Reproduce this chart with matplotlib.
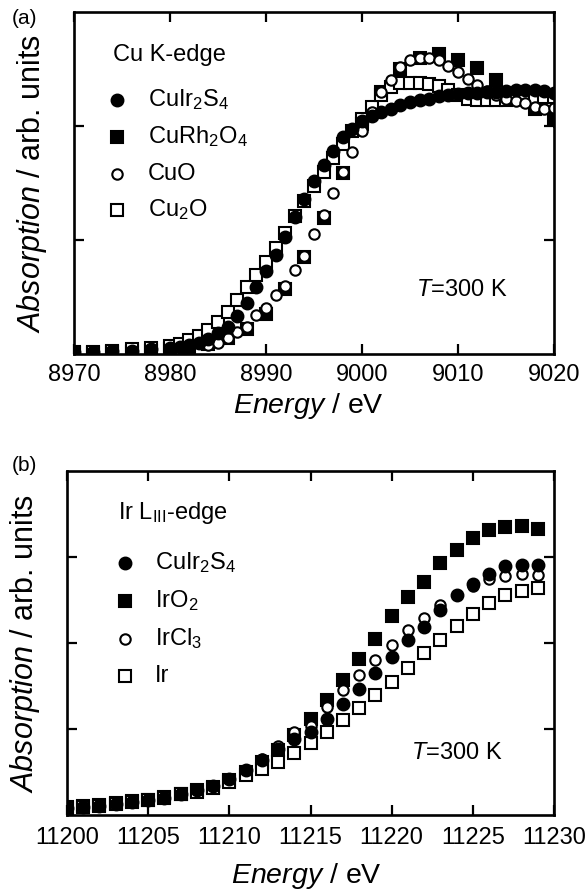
import matplotlib
matplotlib.use("Agg")
import matplotlib.pyplot as plt

plt.rcParams['font.family'] = ['Liberation Sans', 'DejaVu Sans']
plt.rcParams['mathtext.fontset'] = 'custom'
plt.rcParams['mathtext.rm'] = 'Liberation Sans'
plt.rcParams['mathtext.it'] = 'Liberation Sans:italic'
plt.rcParams['mathtext.bf'] = 'Liberation Sans:bold'

# ---------------- Panel (a): Cu K-edge ----------------
cuir2s4_a_E = [8970, 8972, 8974, 8976, 8978, 8980, 8981, 8982, 8983, 8984, 8985, 8986, 8987, 8988,
               8989, 8990, 8991, 8992, 8993, 8994, 8995, 8996, 8997, 8998, 8999, 9000, 9001, 9002,
               9003, 9004, 9005, 9006, 9007, 9008, 9009, 9010, 9011, 9012, 9013, 9014, 9015, 9016,
               9017, 9018, 9019, 9020]
cuir2s4_a_A = [0.02, 0.02, 0.03, 0.03, 0.04, 0.05, 0.06, 0.08, 0.10, 0.13, 0.18, 0.24, 0.33, 0.45,
               0.59, 0.73, 0.87, 1.03, 1.20, 1.36, 1.52, 1.66, 1.78, 1.90, 1.97, 2.04, 2.09, 2.12,
               2.15, 2.18, 2.21, 2.23, 2.24, 2.26, 2.27, 2.28, 2.29, 2.29, 2.30, 2.30, 2.31, 2.32,
               2.32, 2.32, 2.31, 2.29]

curh2o4_E = [8970, 8972, 8974, 8976, 8978, 8980, 8982, 8984, 8986, 8988, 8990, 8992, 8994, 8996,
             8998, 9000, 9002, 9004, 9006, 9008, 9010, 9012, 9014, 9016, 9018, 9020]
curh2o4_A = [0.01, 0.01, 0.02, 0.02, 0.03, 0.04, 0.06, 0.09, 0.14, 0.22, 0.35, 0.57, 0.85, 1.19,
             1.59, 2.02, 2.30, 2.50, 2.60, 2.63, 2.58, 2.51, 2.40, 2.28, 2.15, 2.07]
curh2o4_err_last = 0.09

cuo_E = [8970, 8972, 8974, 8976, 8978, 8980, 8982, 8984, 8985, 8986, 8987, 8988, 8989, 8990,
         8991, 8992, 8993, 8994, 8995, 8996, 8997, 8998, 8999, 9000, 9001, 9002, 9003, 9004,
         9005, 9006, 9007, 9008, 9009, 9010, 9011, 9012, 9013, 9014, 9015, 9016, 9017, 9018,
         9019, 9020]
cuo_A = [0.02, 0.02, 0.03, 0.03, 0.04, 0.04, 0.06, 0.08, 0.10, 0.14, 0.19, 0.24, 0.34, 0.40,
         0.52, 0.60, 0.74, 0.86, 1.05, 1.22, 1.41, 1.60, 1.77, 1.96, 2.12, 2.30, 2.40, 2.52,
         2.58, 2.60, 2.60, 2.58, 2.53, 2.47, 2.41, 2.36, 2.31, 2.27, 2.24, 2.22, 2.20, 2.17,
         2.15, 2.16]

cu2o_E = [8970, 8972, 8974, 8976, 8978, 8980, 8981, 8982, 8983, 8984, 8985, 8986, 8987, 8988,
          8989, 8990, 8991, 8992, 8993, 8994, 8995, 8996, 8997, 8998, 8999, 9000, 9001, 9002,
          9003, 9004, 9005, 9006, 9007, 9008, 9009, 9010, 9011, 9012, 9013, 9014, 9015, 9016,
          9017, 9018, 9019, 9020]
cu2o_A = [0.02, 0.02, 0.03, 0.04, 0.05, 0.07, 0.09, 0.12, 0.16, 0.21, 0.28, 0.37, 0.47, 0.59,
          0.69, 0.81, 0.93, 1.06, 1.21, 1.34, 1.47, 1.60, 1.72, 1.84, 1.96, 2.06, 2.17, 2.27,
          2.34, 2.38, 2.38, 2.38, 2.37, 2.35, 2.32, 2.27, 2.24, 2.23, 2.23, 2.23, 2.23, 2.24,
          2.24, 2.24, 2.25, 2.25]

# ---------------- Panel (b): Ir L_III-edge ----------------
ir_E = list(range(11200, 11230))
cuir2s4_b_A = [0.08, 0.09, 0.11, 0.13, 0.15, 0.17, 0.20, 0.25, 0.29, 0.34, 0.42, 0.52, 0.64, 0.77,
               0.88, 0.97, 1.12, 1.29, 1.47, 1.65, 1.84, 2.03, 2.19, 2.38, 2.56, 2.69, 2.80, 2.89,
               2.91, 2.91]
iro2_A = [0.09, 0.10, 0.12, 0.14, 0.16, 0.18, 0.21, 0.25, 0.29, 0.33, 0.41, 0.50, 0.62, 0.76,
          0.93, 1.12, 1.34, 1.57, 1.81, 2.05, 2.31, 2.54, 2.71, 2.93, 3.08, 3.22, 3.31, 3.35,
          3.36, 3.33]
ircl3_A = [0.08, 0.09, 0.11, 0.13, 0.15, 0.17, 0.20, 0.25, 0.29, 0.34, 0.42, 0.52, 0.65, 0.80,
           0.97, 1.04, 1.26, 1.45, 1.63, 1.80, 1.98, 2.15, 2.29, 2.44, 2.56, 2.66, 2.74, 2.78,
           2.80, 2.79]
ir_A = [0.08, 0.09, 0.11, 0.13, 0.15, 0.17, 0.20, 0.24, 0.27, 0.31, 0.38, 0.46, 0.54, 0.62,
        0.72, 0.84, 0.96, 1.10, 1.24, 1.40, 1.55, 1.71, 1.88, 2.03, 2.20, 2.34, 2.46, 2.56,
        2.61, 2.64]

labels_a = [r"CuIr$_2$S$_4$", r"CuRh$_2$O$_4$", "CuO", r"Cu$_2$O"]
labels_b = [r"CuIr$_2$S$_4$", r"IrO$_2$", r"IrCl$_3$", "Ir"]

W, H = 587, 892
fig = plt.figure(figsize=(W / 100, H / 100), dpi=100)

def px_axes(l, t, r, b):
    return fig.add_axes([l / W, 1 - b / H, (r - l) / W, (b - t) / H])

axa = px_axes(74, 12, 554, 354)
axb = px_axes(67, 471, 554, 815)

mew = 1.5
filled_c = dict(marker='o', ls='none', ms=8.5, mfc='black', mec='black', mew=mew)
filled_s = dict(marker='s', ls='none', ms=9.2, mfc='black', mec='black', mew=mew)
open_c = dict(marker='o', ls='none', ms=7.5, mfc='white', mec='black', mew=mew)
open_s = dict(marker='s', ls='none', ms=9.0, mfc='white', mec='black', mew=mew)

for ax in (axa, axb):
    for s in ax.spines.values():
        s.set_linewidth(1.9)
        s.set_zorder(10)
    ax.tick_params(direction='in', length=7, width=1.6, top=True, right=True,
                   labelsize=17, pad=7)

# panel a
axa.plot(cu2o_E, cu2o_A, **open_s, zorder=3)
axa.plot(cuo_E, cuo_A, **open_c, zorder=4)
axa.errorbar([curh2o4_E[-1]], [curh2o4_A[-1]], yerr=[curh2o4_err_last], fmt='none',
             ecolor='black', elinewidth=1.3, capsize=0, zorder=2, clip_on=False)
axa.plot(curh2o4_E, curh2o4_A, **filled_s, zorder=2)
axa.plot(cuir2s4_a_E, cuir2s4_a_A, **filled_c, zorder=5)
axa.set_xlim(8970, 9020)
axa.set_ylim(0, 3.0)
axa.set_xticks([8970, 8980, 8990, 9000, 9010, 9020])
axa.set_yticks([1, 2])
axa.tick_params(axis='y', labelleft=False)

# panel b
axb.plot(ir_E, ir_A, **open_s, zorder=3)
axb.plot(ir_E, ircl3_A, **open_c, zorder=4)
axb.plot(ir_E, iro2_A, **filled_s, zorder=2)
axb.plot(ir_E, cuir2s4_b_A, **filled_c, zorder=5)
axb.set_xlim(11200, 11230)
axb.set_ylim(0, 4.0)
axb.set_xticks([11200, 11205, 11210, 11215, 11220, 11225, 11230])
axb.set_yticks([1, 2, 3])
axb.tick_params(axis='y', labelleft=False)
axb.tick_params(axis='x', pad=9)

def ftext(x, y, s, **kw):
    fig.text(x / W, 1 - y / H, s, **kw)

# legends (manual)
fs = 17
ftext(113, 55, "Cu K-edge", fontsize=fs, va='center', ha='left')
styles = [filled_c, filled_s, open_c, open_s]
rows_a = [100, 137, 174, 210]
for lab, st, y in zip(labels_a, styles, rows_a):
    fig.lines.append(plt.Line2D([117 / W], [1 - y / H], transform=fig.transFigure, **st))
    ftext(148, y, lab, fontsize=fs, va='center', ha='left')

ftext(118, 513, r"Ir L$_{\mathrm{III}}$-edge", fontsize=fs, va='center', ha='left')
rows_b = [563, 601, 639, 676]
for lab, st, y in zip(labels_b, styles, rows_b):
    fig.lines.append(plt.Line2D([125 / W], [1 - y / H], transform=fig.transFigure, **st))
    ftext(155, y, lab, fontsize=fs, va='center', ha='left')

ftext(462, 290, r"$T$=300 K", fontsize=fs, va='center', ha='center')
ftext(457, 753, r"$T$=300 K", fontsize=fs, va='center', ha='center')

# axis labels
ftext(308, 406, r"$\mathit{Energy}$ / eV", fontsize=20.5, va='center', ha='center')
ftext(306, 876, r"$\mathit{Energy}$ / eV", fontsize=20.5, va='center', ha='center')
ftext(32, 183, r"$\mathit{Absorption}$ / arb. units", fontsize=22, va='center', ha='center',
      rotation=90)
ftext(25, 643, r"$\mathit{Absorption}$ / arb. units", fontsize=22, va='center', ha='center',
      rotation=90)

ftext(12, 18, "(a)", fontsize=15, va='center', ha='left')
ftext(12, 466, "(b)", fontsize=15, va='center', ha='left')

fig.savefig("out.png", dpi=100)
